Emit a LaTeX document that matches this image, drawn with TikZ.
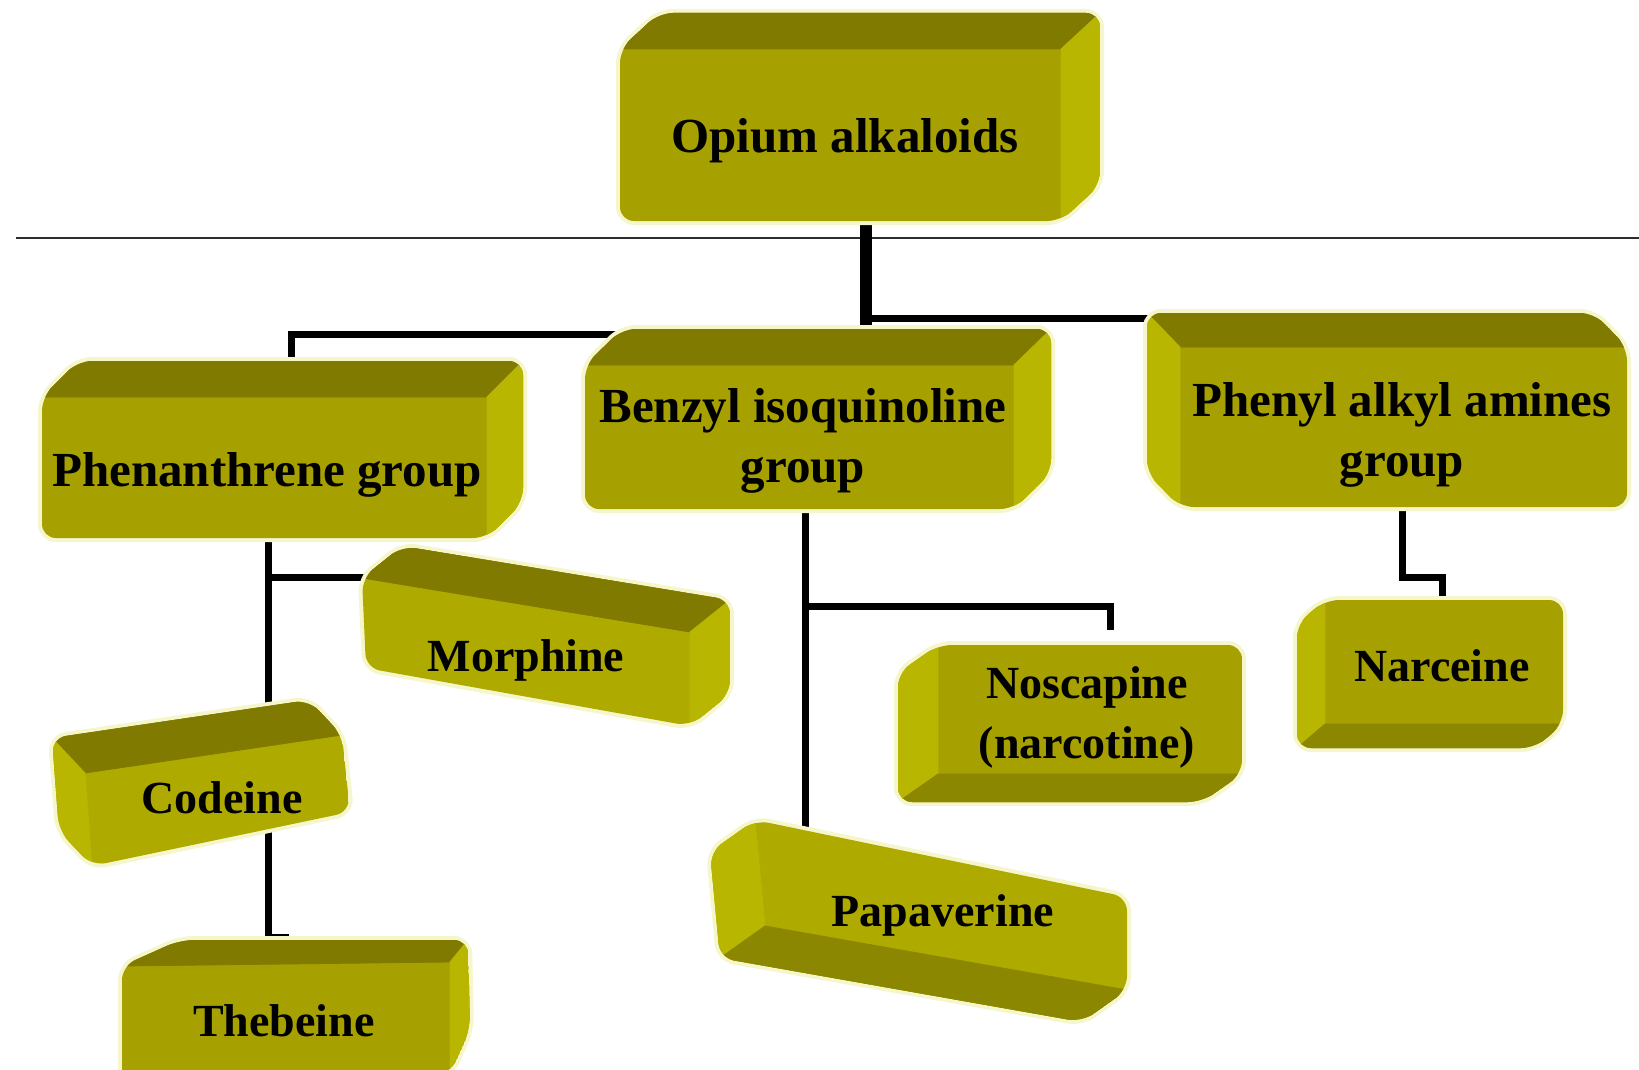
\documentclass[tikz,border=0pt]{standalone}
\usepackage{fontspec}
\setmainfont{Liberation Serif}
\usetikzlibrary{calc}
\definecolor{frontc}{RGB}{166,160,0}
\definecolor{frontb}{RGB}{174,170,0}
\definecolor{topc}{RGB}{128,122,0}
\definecolor{sidec}{RGB}{184,182,0}
\definecolor{botc}{RGB}{140,135,0}
\definecolor{glowc}{RGB}{246,246,205}
\definecolor{sepc}{RGB}{45,45,45}
\tikzset{
  glow/.style={draw=glowc, line width=4pt, rounded corners=7pt, line join=round},
  topface/.style={fill=topc, draw=topc, line width=0.4pt},
  sideface/.style={fill=sidec, draw=sidec, line width=0.4pt},
  botface/.style={fill=botc, draw=botc, line width=0.4pt},
  biglbl/.style={font=\bfseries\fontsize{24.5}{30}\selectfont, align=center, text=black, inner sep=0pt, text height=1.5ex, text depth=0.25ex},
  lbl/.style={font=\bfseries\fontsize{23}{30}\selectfont, align=center, text=black, inner sep=0pt, text height=1.5ex, text depth=0.25ex},
  conn/.style={line width=3.5pt, black},
  trunk/.style={line width=6pt, black},
  sepline/.style={line width=1.2pt, sepc}
}
\newcommand\cubo[6]{%
  \coordinate (#1A) at (#2); \coordinate (#1B) at (#3);
  \coordinate (#1C) at (#4); \coordinate (#1D) at (#5);
  \coordinate (#1a) at ($(#1A)+(#6)$); \coordinate (#1b) at ($(#1B)+(#6)$);
  \coordinate (#1c) at ($(#1C)+(#6)$); \coordinate (#1d) at ($(#1D)+(#6)$);}
\newcommand\solid[3][frontc]{%
  \draw[glow] #2;
  \begin{scope}\clip[rounded corners=7pt] #2; \fill[#1] #2; #3 \end{scope}}
\begin{document}
\begin{tikzpicture}[x=0.5pt,y=-0.5pt]
\useasboundingbox (0,0) rectangle (1639,1070);
% separator
\coordinate (sepL) at (16,238);
\coordinate (sepR) at (1639,238);
\draw[sepline] (sepL) -- (sepR);
% connectors
\coordinate (opS) at (866,218);
\coordinate (bzN) at (866,336);
\coordinate (jR) at (866,318);
\coordinate (pyW) at (1155,318);
\coordinate (jL) at (866,334);
\coordinate (pnN) at (291,366);
\draw[trunk] (opS) -- (bzN);
\draw[conn] (jR) -- (pyW);
\draw[conn] (jL) -| (pnN);
\coordinate (pnS) at (268,535);
\coordinate (cdN) at (268,712);
\coordinate (jM) at (268,577);
\coordinate (moW) at (368,577);
\draw[conn] (pnS) -- (cdN);
\draw[conn] (jM) -- (moW);
\coordinate (cdS) at (268,825);
\coordinate (thN) at (289,937);
\draw[conn] (cdS) |- (thN);
\coordinate (bzS) at (805,505);
\coordinate (paN) at (805,835);
\coordinate (jB) at (805,606);
\coordinate (nsN) at (1110,630);
\draw[conn] (bzS) -- (paN);
\draw[conn] (jB) -| (nsN);
\coordinate (pyS) at (1402,505);
\coordinate (jN) at (1442,577);
\coordinate (naN) at (1442,603);
\draw[conn] (pyS) |- (jN) -- (naN);
% Opium
\cubo{op}{620,49}{1061,49}{1061,221}{620,221}{39,-36}
\solid{(opA) -- (opa) -- (opb) -- (opc) -- (opC) -- (opD) -- cycle}
 {\filldraw[topface] (opA)--(opB)--(opb)--(opa)--cycle;
  \filldraw[sideface] (opB)--(opb)--(opc)--(opC)--cycle;}
\node[biglbl] (opium) at (845,147) {Opium alkaloids};
% Phenanthrene
\cubo{pn}{42,397}{487,397}{487,538}{42,538}{36,-36}
\solid{(pnA) -- (pna) -- (pnb) -- (pnc) -- (pnC) -- (pnD) -- cycle}
 {\filldraw[topface] (pnA)--(pnB)--(pnb)--(pna)--cycle;
  \filldraw[sideface] (pnB)--(pnb)--(pnc)--(pnC)--cycle;}
\node[biglbl] (phen) at (267,481) {Phenanthrene group};
% Benzyl
\cubo{bz}{585,365}{1014,365}{1014,509}{585,509}{37,-36}
\solid{(bzA) -- (bza) -- (bzb) -- (bzc) -- (bzC) -- (bzD) -- cycle}
 {\filldraw[topface] (bzA)--(bzB)--(bzb)--(bza)--cycle;
  \filldraw[sideface] (bzB)--(bzb)--(bzc)--(bzC)--cycle;}
\node[biglbl] (benzyl) at (803,477) {Benzyl isoquinoline\\group};
% Phenyl
\cubo{py}{1180,347}{1627,347}{1627,507}{1180,507}{-33,-34}
\solid{(pyD) -- (pyd) -- (pya) -- (pyb) -- (pyB) -- (pyC) -- cycle}
 {\filldraw[topface] (pyA)--(pyB)--(pyb)--(pya)--cycle;
  \filldraw[sideface] (pyD)--(pyA)--(pya)--(pyd)--cycle;}
\node[biglbl] (phenyl) at (1402,471) {Phenyl alkyl amines\\group};
% Narceine
\cubo{na}{1325,600}{1563,600}{1563,724}{1325,724}{-28,24}
\solid{(naA) -- (naB) -- (naC) -- (nac) -- (nad) -- (naa) -- cycle}
 {\filldraw[sideface] (naD)--(naA)--(naa)--(nad)--cycle;
  \filldraw[botface] (naC)--(naD)--(nad)--(nac)--cycle;}
\node[lbl] (narceine) at (1442,676) {Narceine};
% Noscapine
\cubo{ns}{938,645}{1242,645}{1242,774}{938,774}{-40,28}
\solid{(nsA) -- (nsB) -- (nsC) -- (nsc) -- (nsd) -- (nsa) -- cycle}
 {\filldraw[sideface] (nsD)--(nsA)--(nsa)--(nsd)--cycle;
  \filldraw[botface] (nsC)--(nsD)--(nsd)--(nsc)--cycle;}
\node[lbl] (noscapine) at (1087,753) {Noscapine\\(narcotine)};
% Morphine
\cubo{mo}{362,578}{690,632}{690,726}{366,668}{40,-32}
\solid[frontb]{(moA) -- (moa) -- (mob) -- (moc) -- (moC) -- (moD) -- cycle}
 {\filldraw[topface] (moA)--(moB)--(mob)--(moa)--cycle;
  \filldraw[sideface] (moB)--(mob)--(moc)--(moC)--cycle;}
\node[lbl] (morphine) at (526,666) {Morphine};
% Codeine
\cubo{cd}{85,773}{342,735}{350,812}{92,866}{-33,-35}
\solid[frontb]{(cdD) -- (cdd) -- (cda) -- (cdb) -- (cdB) -- (cdC) -- cycle}
 {\filldraw[topface] (cdA)--(cdB)--(cdb)--(cda)--cycle;
  \filldraw[sideface] (cdD)--(cdA)--(cda)--(cdd)--cycle;}
\node[lbl] (codeine) at (222,808) {Codeine};
% Thebeine
\coordinate (thA) at (122,966); \coordinate (thB) at (450,962);
\coordinate (thC) at (450,1074); \coordinate (thD) at (122,1090);
\coordinate (tha) at (180,940); \coordinate (thb) at (468,940);
\coordinate (thc) at (470,1030);
\solid{(thA) -- (tha) -- (thb) -- (thc) -- (thC) -- (thD) -- cycle}
 {\filldraw[topface] (thA)--(thB)--(thb)--(tha)--cycle;
  \filldraw[sideface] (thB)--(thb)--(thc)--(thC)--cycle;}
\node[lbl] (thebeine) at (284,1031) {Thebeine};
% Papaverine
\cubo{pa}{755,820}{1127,897}{1127,990}{765,926}{-45,32}
\solid[frontb]{(paA) -- (paB) -- (paC) -- (pac) -- (pad) -- (paa) -- cycle}
 {\filldraw[sideface] (paD)--(paA)--(paa)--(pad)--cycle;
  \filldraw[botface] (paC)--(paD)--(pad)--(pac)--cycle;}
\node[lbl] (papaverine) at (943,921) {Papaverine};
\end{tikzpicture}
\end{document}
